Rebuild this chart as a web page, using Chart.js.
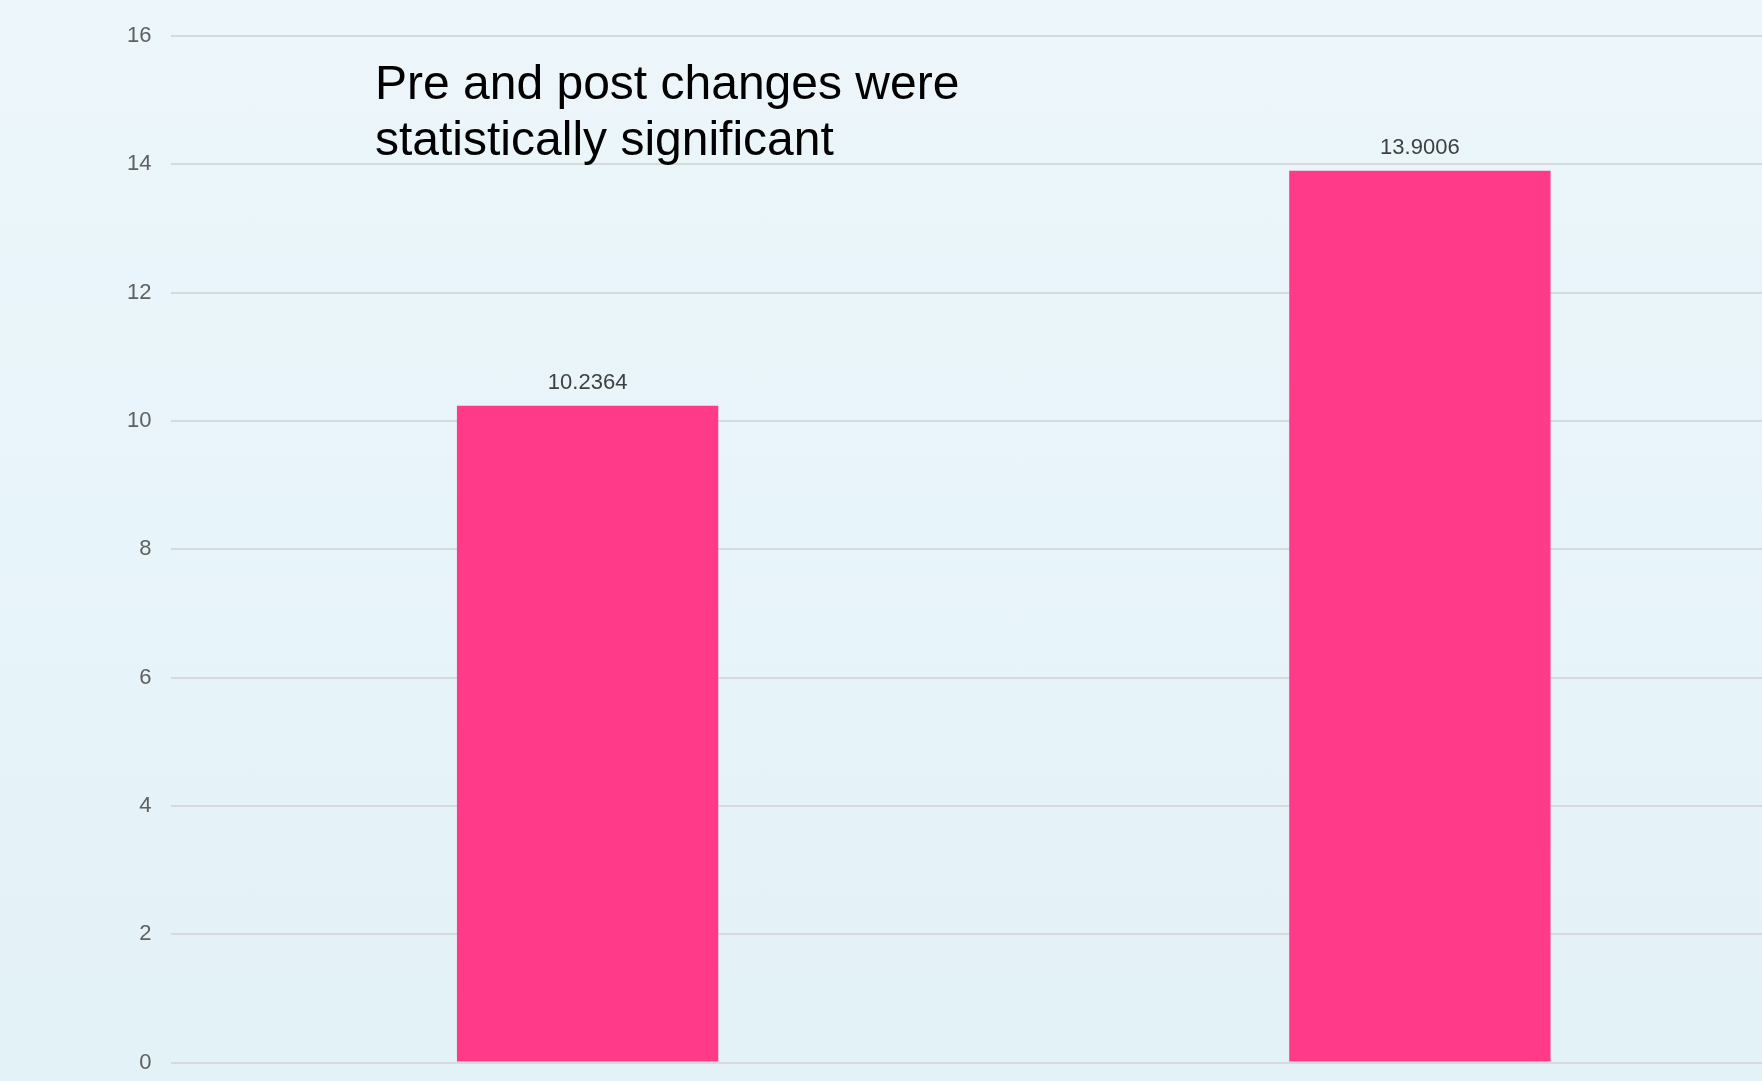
<!DOCTYPE html>
<html>
<head>
<meta charset="utf-8">
<script src="https://cdn.jsdelivr.net/npm/chart.js@4.4.1/dist/chart.umd.min.js"></script>
<style>
  html, body {
    margin: 0;
    padding: 0;
    overflow: hidden;
    width: 1762px;
    height: 1081px;
    background: linear-gradient(180deg, #ecf6fb 0%, #e3f2f7 100%);
  }
  #wrap {
    position: absolute;
    left: 0;
    top: 0;
    width: 1836px;
    height: 1129px;
  }
</style>
</head>
<body>
<div id="wrap"><canvas id="myChart"></canvas></div>
<script>
const categories = ["Pre", "Post"];
const scores = [10.2364, 13.9006];
const yTicks = [0, 2, 4, 6, 8, 10, 12, 14, 16];
const noteLines = ["Pre and post changes were", "statistically significant"];

const font = '"Liberation Sans", Arial, sans-serif';

// value labels above each bar, placed from the bar elements
const valueLabels = {
  id: "valueLabels",
  afterDatasetsDraw(chart) {
    const ctx = chart.ctx;
    ctx.save();
    ctx.font = "22px " + font;
    ctx.fillStyle = "#404040";
    ctx.textAlign = "center";
    ctx.textBaseline = "alphabetic";
    chart.getDatasetMeta(0).data.forEach((bar, i) => {
      ctx.fillText(String(scores[i]), bar.x, bar.y - 17);
    });
    ctx.restore();
  },
};

// the note written in the top-left of the plot
const note = {
  id: "note",
  afterDraw(chart) {
    const ctx = chart.ctx;
    ctx.save();
    ctx.font = "48px " + font;
    ctx.fillStyle = "#000000";
    ctx.textAlign = "left";
    ctx.textBaseline = "alphabetic";
    noteLines.forEach((line, i) => {
      ctx.fillText(line, 375, 99 + i * 56);
    });
    ctx.restore();
  },
};

new Chart(document.getElementById("myChart"), {
  type: "bar",
  data: {
    labels: categories,
    datasets: [
      {
        label: "Score",
        data: scores,
        backgroundColor: "#ff3a88",
        borderWidth: 0,
        categoryPercentage: 1,
        barPercentage: 0.314,
      },
    ],
  },
  options: {
    responsive: true,
    maintainAspectRatio: false,
    animation: false,
    layout: {
      padding: { left: 107, top: 36, right: 0, bottom: 10 },
    },
    plugins: {
      legend: { display: false },
      tooltip: { enabled: false },
    },
    scales: {
      x: {
        grid: { display: false, drawTicks: false },
        border: { display: false },
        ticks: {
          padding: 15,
          color: "#606060",
          font: { family: font, size: 22 },
        },
      },
      y: {
        min: 0,
        max: 16,
        afterBuildTicks(axis) {
          axis.ticks = yTicks.map((v) => ({ value: v }));
        },
        grid: { color: "#d6dadc", lineWidth: 2, drawTicks: false },
        border: { display: false },
        ticks: {
          padding: 20,
          color: "#606060",
          font: { family: font, size: 22 },
        },
      },
    },
  },
  plugins: [valueLabels, note],
});
</script>
</body>
</html>
